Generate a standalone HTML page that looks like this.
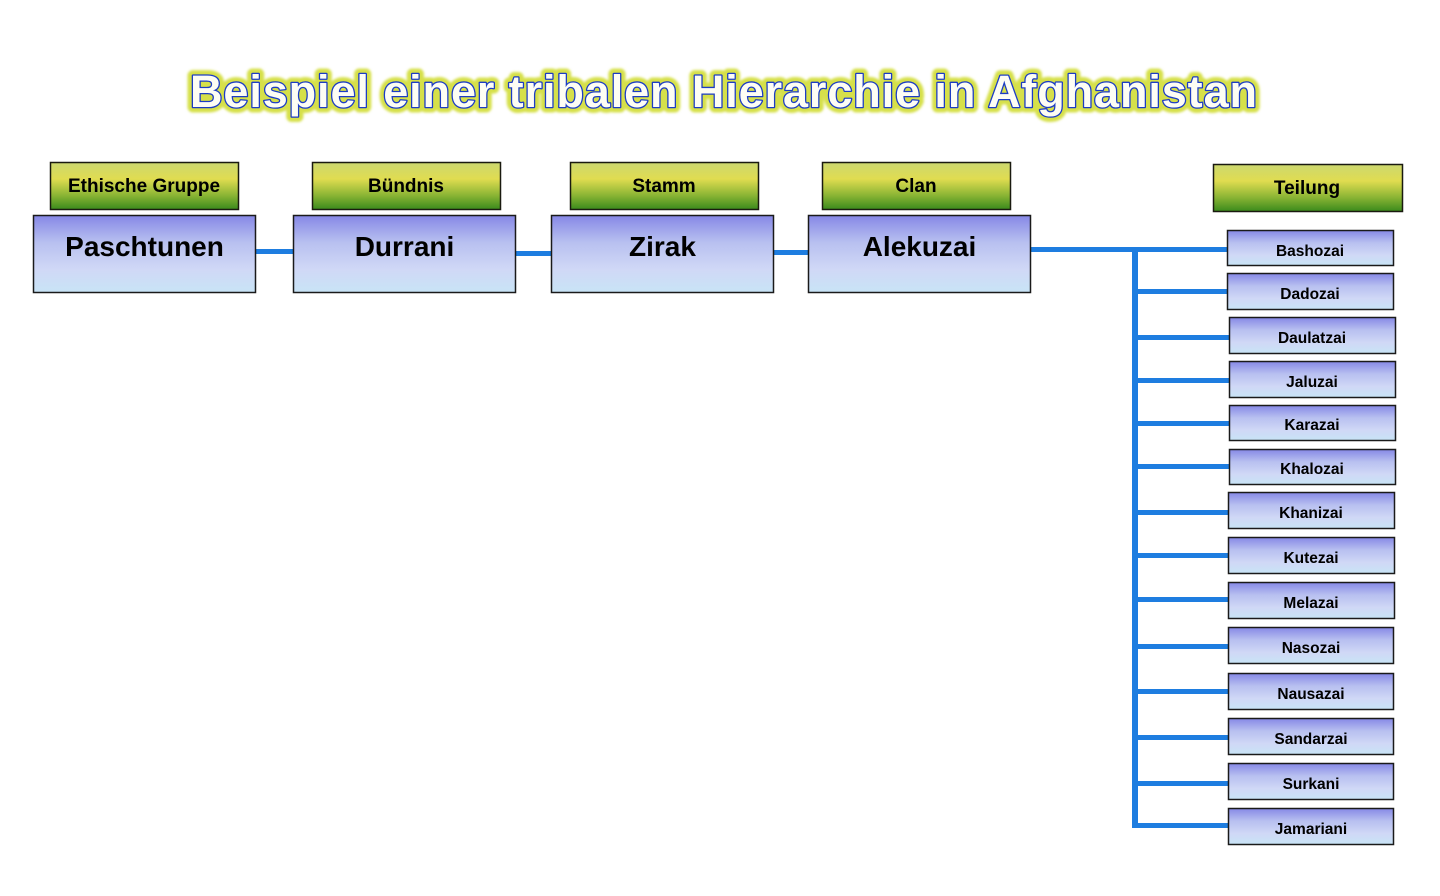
<!DOCTYPE html>
<html><head><meta charset="utf-8"><style>
html,body{margin:0;padding:0;background:#fff;}
svg{display:block;}
text{font-family:"Liberation Sans",sans-serif;font-weight:bold;}
</style></head><body>
<svg width="1440" height="896" viewBox="0 0 1440 896" xmlns="http://www.w3.org/2000/svg">
<defs>
<linearGradient id="g" x1="0" y1="0" x2="0" y2="1">
<stop offset="0" stop-color="#ccd870"/>
<stop offset="0.35" stop-color="#e0dc50"/>
<stop offset="0.7" stop-color="#8ab434"/>
<stop offset="1" stop-color="#3a8a1c"/>
</linearGradient>
<linearGradient id="b" x1="0" y1="0" x2="0" y2="1">
<stop offset="0" stop-color="#8688e6"/>
<stop offset="0.35" stop-color="#b8c0f0"/>
<stop offset="0.7" stop-color="#d0d8f6"/>
<stop offset="1" stop-color="#c8e4f6"/>
</linearGradient>
<filter id="glow" x="-5%" y="-30%" width="110%" height="160%"><feGaussianBlur stdDeviation="1.2"/></filter>
</defs>

<!-- Title -->
<g font-size="45">
<text x="190" y="107" textLength="1067" lengthAdjust="spacing" fill="#d6e04a" stroke="#d6e04a" stroke-width="11" stroke-linejoin="round" filter="url(#glow)">Beispiel einer tribalen Hierarchie in Afghanistan</text>
<text x="190" y="107" textLength="1067" lengthAdjust="spacing" fill="#fdfdf4" stroke="#1c3cc4" stroke-width="2.6" stroke-linejoin="round" paint-order="stroke">Beispiel einer tribalen Hierarchie in Afghanistan</text>
</g>

<!-- connectors -->
<g fill="#1e7de0">
<rect x="255" y="249" width="40" height="5"/>
<rect x="514" y="251" width="39" height="5"/>
<rect x="772" y="250" width="38" height="5"/>
<rect x="1029" y="247" width="199" height="5"/>
<rect x="1132" y="247" width="6" height="581"/>
<rect x="1132" y="289" width="96" height="5"/>
<rect x="1132" y="335" width="97" height="5"/>
<rect x="1132" y="378" width="97" height="5"/>
<rect x="1132" y="421" width="97" height="5"/>
<rect x="1132" y="464" width="97" height="5"/>
<rect x="1132" y="510" width="96" height="5"/>
<rect x="1132" y="553" width="96" height="5"/>
<rect x="1132" y="597" width="96" height="5"/>
<rect x="1132" y="644" width="96" height="5"/>
<rect x="1132" y="689" width="96" height="5"/>
<rect x="1132" y="735" width="96" height="5"/>
<rect x="1132" y="781" width="96" height="5"/>
<rect x="1132" y="823" width="96" height="5"/>
</g>

<!-- green header boxes -->
<g fill="url(#g)" stroke="#1a1a10" stroke-width="1.5">
<rect x="50.5" y="162.5" width="188" height="47"/>
<rect x="312.5" y="162.5" width="188" height="47"/>
<rect x="570.5" y="162.5" width="188" height="47"/>
<rect x="822.5" y="162.5" width="188" height="47"/>
<rect x="1213.5" y="164.5" width="189" height="47"/>
</g>
<g font-size="19" fill="#000" text-anchor="middle">
<text x="144" y="192">Ethische Gruppe</text>
<text x="406" y="192">Bündnis</text>
<text x="664" y="192">Stamm</text>
<text x="916" y="192">Clan</text>
<text x="1307" y="194">Teilung</text>
</g>

<!-- main blue boxes -->
<g fill="url(#b)" stroke="#1a1a1a" stroke-width="1.5">
<rect x="33.5" y="215.5" width="222" height="77"/>
<rect x="293.5" y="215.5" width="222" height="77"/>
<rect x="551.5" y="215.5" width="222" height="77"/>
<rect x="808.5" y="215.5" width="222" height="77"/>
</g>
<g font-size="28" fill="#000" text-anchor="middle">
<text x="144.5" y="256">Paschtunen</text>
<text x="404.5" y="256">Durrani</text>
<text x="662.5" y="256">Zirak</text>
<text x="919.5" y="256">Alekuzai</text>
</g>

<!-- small blue boxes -->
<g fill="url(#b)" stroke="#1a1a1a" stroke-width="1.5">
<rect x="1227.5" y="230.5" width="166" height="35"/>
<rect x="1227.5" y="273.5" width="166" height="36"/>
<rect x="1229.5" y="317.5" width="166" height="36"/>
<rect x="1229.5" y="361.5" width="166" height="36"/>
<rect x="1229.5" y="405.5" width="166" height="35"/>
<rect x="1229.5" y="449.5" width="166" height="35"/>
<rect x="1228.5" y="492.5" width="166" height="36"/>
<rect x="1228.5" y="537.5" width="166" height="36"/>
<rect x="1228.5" y="582.5" width="166" height="36"/>
<rect x="1228.5" y="627.5" width="165" height="36"/>
<rect x="1228.5" y="673.5" width="165" height="36"/>
<rect x="1228.5" y="718.5" width="165" height="36"/>
<rect x="1228.5" y="763.5" width="165" height="36"/>
<rect x="1228.5" y="808.5" width="165" height="36"/>
</g>
<g font-size="15.5" fill="#000" text-anchor="middle">
<text x="1310" y="256">Bashozai</text>
<text x="1310" y="299">Dadozai</text>
<text x="1312" y="343">Daulatzai</text>
<text x="1312" y="387">Jaluzai</text>
<text x="1312" y="430">Karazai</text>
<text x="1312" y="474">Khalozai</text>
<text x="1311" y="518">Khanizai</text>
<text x="1311" y="563">Kutezai</text>
<text x="1311" y="608">Melazai</text>
<text x="1311" y="653">Nasozai</text>
<text x="1311" y="699">Nausazai</text>
<text x="1311" y="744">Sandarzai</text>
<text x="1311" y="789">Surkani</text>
<text x="1311" y="834">Jamariani</text>
</g>
</svg>
</body></html>
